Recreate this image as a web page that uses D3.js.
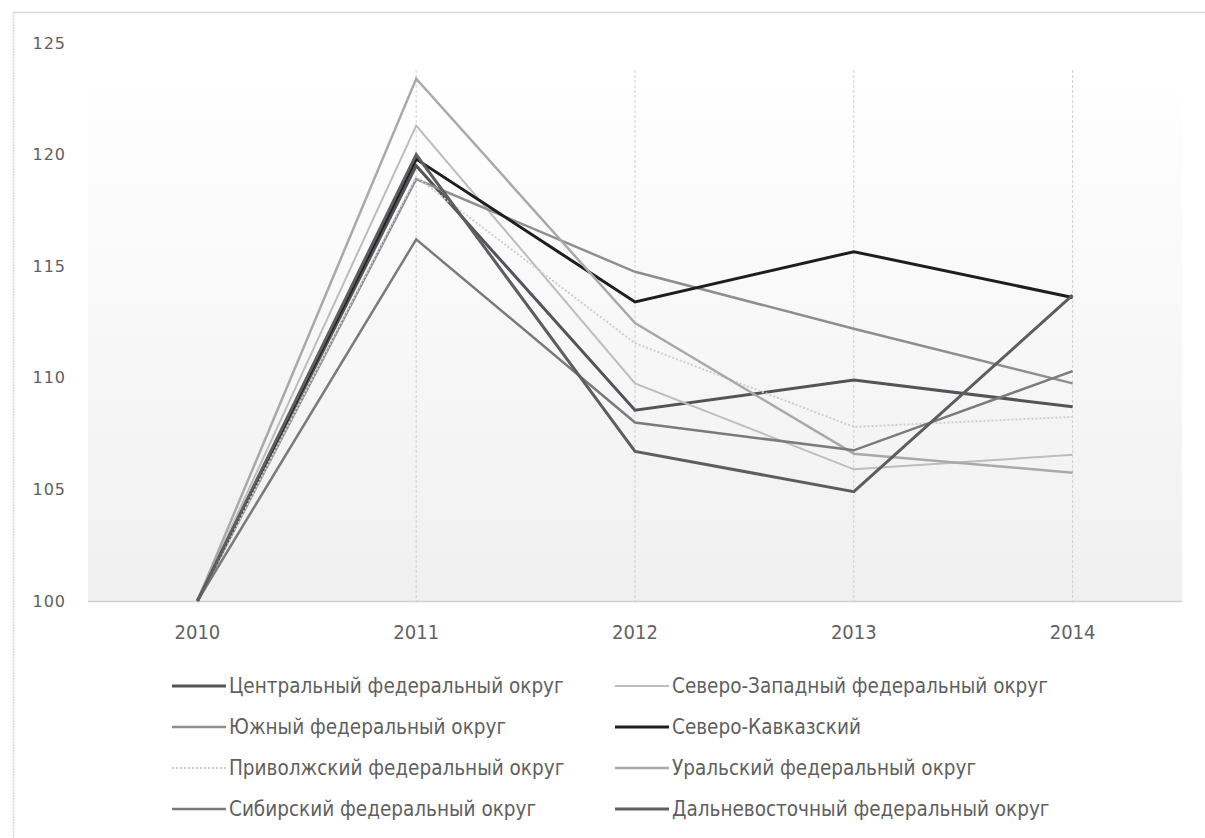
<!DOCTYPE html>
<html>
<head>
<meta charset="utf-8">
<script src="https://cdn.jsdelivr.net/npm/d3@7"></script>
<style>
  body { margin: 0; background: #fff; }
  svg { display: block; }
</style>
</head>
<body>
<svg id="chart" width="1205" height="838"></svg>
<script>
// data
var years = ["2010", "2011", "2012", "2013", "2014"];
var yTicks = [100, 105, 110, 115, 120, 125];

var central = [100, 119.5, 108.55, 109.9, 108.7];
var northWest = [100, 121.3, 109.75, 105.9, 106.55];
var south = [100, 118.9, 114.75, 112.2, 109.75];
var northCaucasus = [100, 119.8, 113.4, 115.65, 113.6];
var volga = [100, 119.0, 111.55, 107.8, 108.25];
var ural = [100, 123.4, 112.45, 106.6, 105.75];
var siberia = [100, 116.2, 108.0, 106.75, 110.3];
var farEast = [100, 120.0, 106.7, 104.9, 113.7];

var names = [
    "Центральный федеральный округ",
    "Северо-Западный федеральный округ",
    "Южный федеральный округ",
    "Северо-Кавказский",
    "Приволжский федеральный округ",
    "Уральский федеральный округ",
    "Сибирский федеральный округ",
    "Дальневосточный федеральный округ"
];
var values = [central, northWest, south, northCaucasus, volga, ural, siberia, farEast];

// styles per series (same order as names)
var colors = ["#57525a", "#bdbdbd", "#8e8e8e", "#1e1e1e", "#cfcfcf", "#a9a9a9", "#7b7b7b", "#5e5e5e"];
var widths = [3, 2, 2.5, 3, 2, 2.5, 2.5, 3];
var dashes = [null, null, null, null, "2,2", null, null, null];

function draw_chart() {
    var svg = d3.select("#chart");

    var plotLeft = 88, plotRight = 1182, plotTop = 43, plotBottom = 601;

    var x = d3.scaleBand().domain(years).range([plotLeft, plotRight]);
    var y = d3.scaleLinear().domain([100, 125]).range([plotBottom, plotTop]);
    var cx = function (d) { return x(d) + x.bandwidth() / 2; };

    // outer frame
    svg.append("line").attr("x1", 13).attr("x2", 1205).attr("y1", 12.5).attr("y2", 12.5)
        .attr("stroke", "#d9d9d9").attr("stroke-width", 1.5);
    svg.append("line").attr("x1", 13.5).attr("x2", 13.5).attr("y1", 12).attr("y2", 838)
        .attr("stroke", "#d4d4d4").attr("stroke-width", 1.5).attr("stroke-dasharray", "2,1");

    // plot background gradient
    var grad = svg.append("defs").append("linearGradient").attr("id", "bg")
        .attr("x1", 0).attr("x2", 0).attr("y1", 0).attr("y2", 1);
    grad.append("stop").attr("offset", "0%").attr("stop-color", "#ffffff");
    grad.append("stop").attr("offset", "100%").attr("stop-color", "#f1f0f1");
    svg.append("rect").attr("x", plotLeft).attr("y", 70)
        .attr("width", plotRight - plotLeft).attr("height", plotBottom - 70)
        .attr("fill", "url(#bg)");

    // vertical grid at categories
    svg.append("g").selectAll("line").data(years.slice(1)).enter().append("line")
        .attr("x1", cx).attr("x2", cx)
        .attr("y1", 70).attr("y2", plotBottom)
        .attr("stroke", "#cfcfcf").attr("stroke-width", 1).attr("stroke-dasharray", "3,2");

    // baseline
    svg.append("line").attr("x1", plotLeft).attr("x2", plotRight)
        .attr("y1", plotBottom + 0.5).attr("y2", plotBottom + 0.5)
        .attr("stroke", "#d0d0d0").attr("stroke-width", 1.5);

    // y axis labels
    var yAxis = svg.append("g").attr("transform", "translate(66,0)")
        .call(d3.axisLeft(y).tickValues(yTicks).tickSize(0).tickPadding(0));
    yAxis.select(".domain").remove();
    yAxis.selectAll("text")
        .attr("font-family", "DejaVu Sans, Verdana, sans-serif")
        .attr("font-size", 16).attr("letter-spacing", 1)
        .attr("fill", "#5f5f5f");

    // x axis labels
    var xAxis = svg.append("g").attr("transform", "translate(0," + (plotBottom + 24) + ")")
        .call(d3.axisBottom(x).tickSize(0).tickPadding(0));
    xAxis.select(".domain").remove();
    xAxis.selectAll("text")
        .attr("font-family", "DejaVu Sans Condensed, Liberation Sans Narrow, sans-serif")
        .attr("font-size", 20).attr("fill", "#626262");

    // lines
    var line = d3.line()
        .x(function (d, i) { return cx(years[i]); })
        .y(function (d) { return y(d); });

    svg.append("g").selectAll("path").data(values).enter().append("path")
        .attr("d", line)
        .attr("fill", "none")
        .attr("stroke", function (d, i) { return colors[i]; })
        .attr("stroke-width", function (d, i) { return widths[i]; })
        .attr("stroke-dasharray", function (d, i) { return dashes[i]; })
        .attr("stroke-linejoin", "miter");

    // legend
    var legX = [172, 615];
    var legY = [686, 727, 768, 809];
    var legend = svg.append("g").selectAll("g").data(names).enter().append("g")
        .attr("transform", function (d, i) {
            return "translate(" + legX[i % 2] + "," + legY[Math.floor(i / 2)] + ")";
        });
    legend.append("line").attr("x1", 0).attr("x2", 54).attr("y1", 0).attr("y2", 0)
        .attr("stroke", function (d, i) { return colors[i]; })
        .attr("stroke-width", function (d, i) { return widths[i]; })
        .attr("stroke-dasharray", function (d, i) { return dashes[i]; });
    legend.append("text").attr("x", 57).attr("y", 0).attr("dy", "0.35em")
        .attr("font-family", "DejaVu Sans Condensed, Liberation Sans Narrow, sans-serif")
        .attr("font-size", 20.5).attr("fill", "#5f5f5f")
        .text(function (d) { return d; });
}

draw_chart();
</script>
</body>
</html>
